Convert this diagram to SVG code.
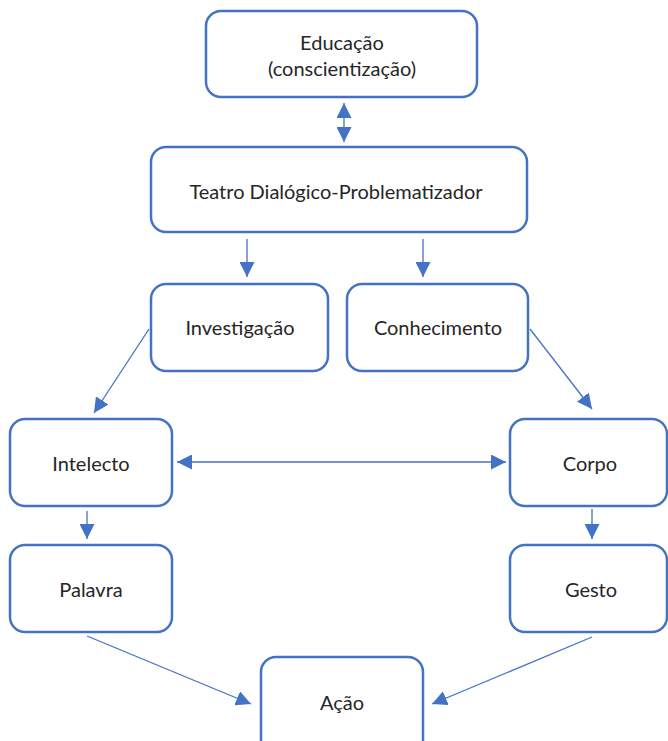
<svg xmlns="http://www.w3.org/2000/svg" width="668" height="741" viewBox="0 0 668 741">
<style>
.box{fill:#fff;stroke:#4472C4;stroke-width:2.5}
.t{font-family:Lato,"Liberation Sans",sans-serif;font-size:20px;fill:#262626;text-anchor:middle}
.c{stroke:#4472C4;stroke-width:1.3;fill:none}
</style>
<defs>
<marker id="ah" viewBox="0 0 10 10" refX="10" refY="5" markerUnits="userSpaceOnUse" markerWidth="15" markerHeight="15" orient="auto-start-reverse">
<path d="M0,0 L10,5 L0,10 z" fill="#4472C4"/>
</marker>
</defs>
<rect width="668" height="741" fill="#fff"/>
<g id="connectors">
<line class="c" x1="344" y1="103" x2="344" y2="142" marker-start="url(#ah)" marker-end="url(#ah)"/>
<line class="c" x1="247" y1="239" x2="247" y2="277" marker-end="url(#ah)"/>
<line class="c" x1="423" y1="239" x2="423" y2="277" marker-end="url(#ah)"/>
<line class="c" x1="149" y1="329" x2="94" y2="413" marker-end="url(#ah)"/>
<line class="c" x1="530" y1="329" x2="592" y2="409" marker-end="url(#ah)"/>
<line class="c" x1="177" y1="462" x2="506" y2="462" marker-start="url(#ah)" marker-end="url(#ah)"/>
<line class="c" x1="87" y1="511" x2="87" y2="539" marker-end="url(#ah)"/>
<line class="c" x1="592" y1="509" x2="592" y2="539" marker-end="url(#ah)"/>
<line class="c" x1="87" y1="636" x2="251" y2="704" marker-end="url(#ah)"/>
<line class="c" x1="592" y1="637" x2="432" y2="704" marker-end="url(#ah)"/>
</g>
<g id="educacao">
<rect class="box" x="206" y="11" width="271" height="86" rx="15"/>
<text class="t" x="342" y="50">Educação</text>
<text class="t" x="342" y="76">(conscientização)</text>
</g>
<g id="teatro">
<rect class="box" x="151" y="147" width="376" height="85" rx="15"/>
<text class="t" x="336" y="199">Teatro Dialógico-Problematizador</text>
</g>
<g id="investigacao">
<rect class="box" x="151" y="284" width="177" height="87" rx="15"/>
<text class="t" x="240" y="335">Investigação</text>
</g>
<g id="conhecimento">
<rect class="box" x="347" y="284" width="181" height="87" rx="15"/>
<text class="t" x="438" y="335">Conhecimento</text>
</g>
<g id="intelecto">
<rect class="box" x="10" y="419" width="162" height="87" rx="15"/>
<text class="t" x="91" y="471">Intelecto</text>
</g>
<g id="corpo">
<rect class="box" x="510" y="419" width="157" height="87" rx="15"/>
<text class="t" x="590" y="471">Corpo</text>
</g>
<g id="palavra">
<rect class="box" x="10" y="545" width="162" height="87" rx="15"/>
<text class="t" x="91" y="597">Palavra</text>
</g>
<g id="gesto">
<rect class="box" x="510" y="545" width="157" height="87" rx="15"/>
<text class="t" x="591" y="597">Gesto</text>
</g>
<g id="acao">
<rect class="box" x="261" y="657" width="162" height="100" rx="15"/>
<text class="t" x="342" y="710">Ação</text>
</g>
</svg>
